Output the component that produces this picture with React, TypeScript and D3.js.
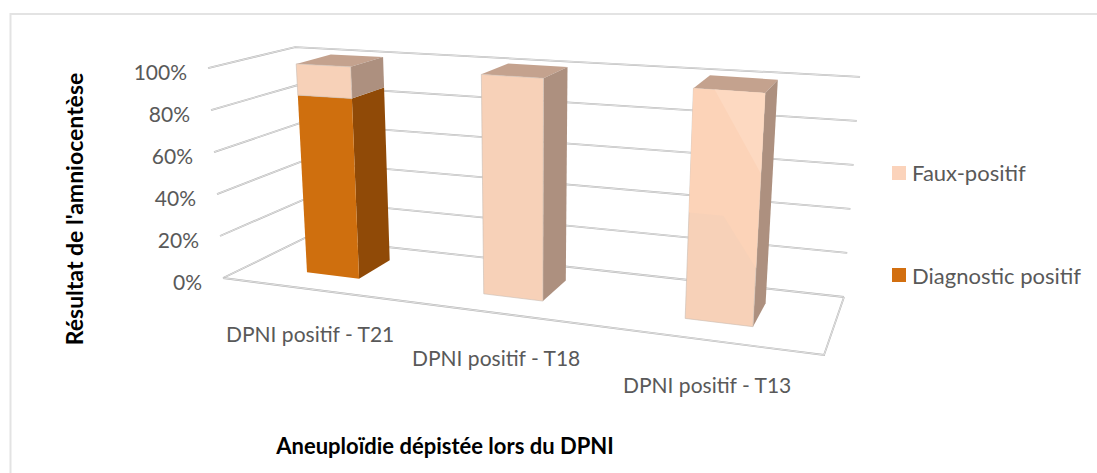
import React from "react";
import * as d3 from "d3";

const categories = ["DPNI positif - T21", "DPNI positif - T18", "DPNI positif - T13"];
const diagnosticPositif = [0.85, 0, 0];
const fauxPositif = [0.15, 1, 1];
const yTicks = [0, 0.2, 0.4, 0.6, 0.8, 1];

type P = [number, number];
// unit square -> quad homography; corners: (0,0) front-left,(1,0) front-right,(1,1) back-right,(0,1) back-left
function homography(q: P[]) {
  const [[x0, y0], [x1, y1], [x2, y2], [x3, y3]] = q;
  const dx1 = x1 - x2, dx2 = x3 - x2, sx = x0 - x1 + x2 - x3;
  const dy1 = y1 - y2, dy2 = y3 - y2, sy = y0 - y1 + y2 - y3;
  const den = dx1 * dy2 - dx2 * dy1;
  const g = (sx * dy2 - dx2 * sy) / den;
  const h = (dx1 * sy - sx * dy1) / den;
  const a = x1 - x0 + g * x1, b = x3 - x0 + h * x3, c = x0;
  const d = y1 - y0 + g * y1, e = y3 - y0 + h * y3, f = y0;
  return (u: number, v: number): P => {
    const w = g * u + h * v + 1;
    return [(a * u + b * v + c) / w, (d * u + e * v + f) / w];
  };
}
const floorQ = homography([[223, 278], [824, 355], [844, 297], [305, 238]]);
const VP: P = [531, 4597];
const kFront = d3.scaleLinear().domain([0, 1]).range([1.0486, 1.0575]);
const kBack = d3.scaleLinear().domain([0, 1]).range([1.0438, 1.0512]);
const yScale = d3.scaleLinear().domain([0, 1]).range([0, 1]);
function project(u: number, val: number, v: number): P {
  const a = floorQ(u, v);
  const k = kFront(u) + (kBack(u) - kFront(u)) * v;
  const s = 1 + (k - 1) * yScale(val);
  return [VP[0] + (a[0] - VP[0]) * s, VP[1] + (a[1] - VP[1]) * s];
}
const xBand = d3.scaleBand<string>().domain(categories).range([0.0033, 1.0033]).paddingInner(0.692).paddingOuter(0.346);
const depth = d3.scaleLinear().domain([0, 1]).range([0.295, 0.72]);

const poly = d3.line<P>().curve(d3.curveLinearClosed);
const pct = d3.format(".0%");

const FONT = "Lato, 'Open Sans', sans-serif";

// faint shading bands on the T13 front face: [fraction across, value]
const t13Mid: P[] = [[0, 0.46], [0.5, 0.46], [1, 0.25], [1, 1], [0, 1]];
const t13Light: P[] = [[0.3, 1], [1, 1], [1, 0.655]];

function GridLine({ d }: { d: string }) {
  return (
    <g fill="none">
      <path d={d} stroke="#b4b4b4" strokeWidth={1.8} />
      <path d={d} stroke="#f4f4f4" strokeWidth={0.7} />
    </g>
  );
}

function Segment({ u0, u1, a, b, front, side, top, edge }: any) {
  const v0 = depth(0), v1 = depth(1);
  return (
    <g>
      {top && <path d={poly([project(u0, b, v0), project(u1, b, v0), project(u1, b, v1), project(u0, b, v1)])!} fill={top} />}
      <path d={poly([project(u1, a, v0), project(u1, a, v1), project(u1, b, v1), project(u1, b, v0)])!} fill={side} />
      <path d={poly([project(u0, a, v0), project(u1, a, v0), project(u1, b, v0), project(u0, b, v0)])!} fill={front} stroke={edge || "none"} strokeWidth={0.6} />
    </g>
  );
}

export default function App() {
  const stacked = categories.map((c, i) => ({ c, i, u0: xBand(c)!, u1: xBand(c)! + xBand.bandwidth() }));
  const t13 = stacked[2];
  const face = (pts: P[]) => poly(pts.map(([f, val]) => project(t13.u0 + (t13.u1 - t13.u0) * f, val, depth(0))))!;
  return (
    <svg width={1097} height={473} style={{ position: "absolute", left: 0, top: 0 }}>
      <rect x={0} y={0} width={1097} height={473} fill="#fff" />
      <path d="M10.5 473V14H1097" fill="none" stroke="#e3e3e3" strokeWidth={2} />
      {yTicks.map((t) => (
        <g key={t}>
          <GridLine d={d3.line<P>()([project(0, t, 0), project(0, t, 1), project(1, t, 1)])!} />
          <text x={project(0, t, 0)[0] - 21} y={project(0, t, 0)[1] + 11.5} textAnchor="end" fontFamily={FONT} fontSize={21} fill="#595959">{pct(t)}</text>
        </g>
      ))}
      <GridLine d={d3.line<P>()([project(0, 0, 0), project(1, 0, 0), project(1, 0, 1)])!} />
      {stacked.map(({ c, i, u0, u1 }) => {
        const d = diagnosticPositif[i], f = fauxPositif[i];
        return (
          <g key={c}>
            {d > 0 && <Segment u0={u0} u1={u1} a={0} b={d} front="#cf6f0e" side="#904a07" />}
            <Segment u0={u0} u1={u1} a={d} b={d + f} front="#f7d1b8" side="#ad907f" top="#c4a28e" edge="#c9bcb2" />
          </g>
        );
      })}
      <path d={face(t13Mid)} fill="#fcd3b8" />
      <path d={face(t13Light)} fill="#fdd9c1" />
      <text x={226} y={342} fontFamily={FONT} fontSize={21} fill="#595959">{categories[0]}</text>
      <text x={412} y={366} fontFamily={FONT} fontSize={21} fill="#595959">{categories[1]}</text>
      <text x={623} y={393} fontFamily={FONT} fontSize={21} fill="#595959">{categories[2]}</text>
      <rect x={892} y={166} width={14} height={14} fill="#fbd3bb" />
      <text x={912} y={181} fontFamily={FONT} fontSize={22} fill="#595959">Faux-positif</text>
      <rect x={892} y={268} width={14} height={14} fill="#d26f10" />
      <text x={912} y={284} fontFamily={FONT} fontSize={22} fill="#595959">Diagnostic positif</text>
      <text x={445} y={454} textAnchor="middle" fontFamily={FONT} fontSize={22} fontWeight={700} fill="#000">Aneuploïdie dépistée lors du DPNI</text>
      <text transform="translate(83,209) rotate(-90)" textAnchor="middle" fontFamily={FONT} fontSize={23} fontWeight={700} fill="#000">Résultat de l'amniocentèse</text>
    </svg>
  );
}
